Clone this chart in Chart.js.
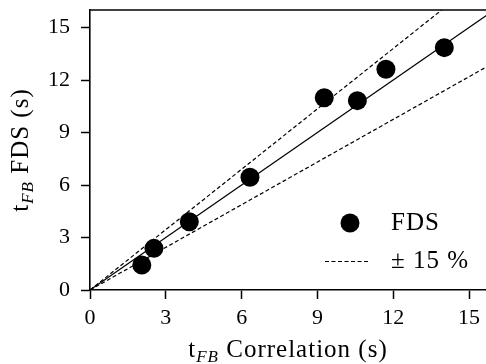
<!DOCTYPE html>
<html>
<head>
<meta charset="utf-8">
<script src="https://cdn.jsdelivr.net/npm/chart.js@4/dist/chart.umd.min.js"></script>
<style>
html,body{margin:0;padding:0;overflow:hidden;background:#fff;}
#wrap{position:relative;width:486px;height:364px;}
</style>
</head>
<body>
<div id="wrap"><canvas id="c" width="486" height="364"></canvas></div>
<script>
// Data
const corrTimes = [2.05, 2.53, 3.93, 6.33, 9.27, 10.58, 11.71, 14.02];
const fdsTimes  = [1.43, 2.38, 3.90, 6.44, 10.99, 10.82, 12.61, 13.85];
const lineX     = [0, 16];
const equalLine = [0, 16];
const upperLine = [0, 18.4];
const lowerLine = [0, 13.0];
const xTicks = [0, 3, 6, 9, 12, 15];
const yTicks = [0, 3, 6, 9, 12, 15];
const xMax = 15.67, yMax = 16;
const legendLabels = ['FDS', '\u00B1 15 %'];

const FONT = 'Liberation Serif';
Chart.defaults.font.family = FONT;
Chart.defaults.font.size = 22;
Chart.defaults.color = '#000';

const pts = corrTimes.map((x, i) => ({x, y: fdsTimes[i]}));
const mk = arr => lineX.map((x, i) => ({x, y: arr[i]}));

const TS = 25, SS = 17, LS = '1px';
function setFont(ctx, f) { ctx.font = f; ctx.letterSpacing = LS; }
function drawSub(ctx, x, y, main, sub, rest, measureOnly) {
  setFont(ctx, TS + 'px "' + FONT + '"');
  const w1 = ctx.measureText(main).width;
  setFont(ctx, 'italic ' + SS + 'px "' + FONT + '"');
  const w2 = ctx.measureText(sub).width;
  setFont(ctx, TS + 'px "' + FONT + '"');
  const w3 = ctx.measureText(rest).width;
  const total = w1 + w2 + w3;
  if (measureOnly) return total;
  setFont(ctx, TS + 'px "' + FONT + '"');
  ctx.fillText(main, x, y);
  setFont(ctx, 'italic ' + SS + 'px "' + FONT + '"');
  ctx.fillText(sub, x + w1, y + 5);
  setFont(ctx, TS + 'px "' + FONT + '"');
  ctx.fillText(rest, x + w1 + w2, y);
  return total;
}

const decor = {
  id: 'decor',
  afterDraw(chart) {
    const ctx = chart.ctx;
    const a = chart.chartArea;
    ctx.save();
    // top spine
    ctx.strokeStyle = '#000';
    ctx.lineWidth = 1.6;
    ctx.beginPath();
    ctx.moveTo(a.left - 0.8, a.top);
    ctx.lineTo(chart.width, a.top);
    ctx.stroke();
    ctx.fillStyle = '#000';
    ctx.textBaseline = 'alphabetic';
    ctx.textAlign = 'left';
    // x title
    const tw = drawSub(ctx, 0, 0, 't', 'FB', ' Correlation (s)', true);
    const cx = (a.left + a.right) / 2;
    drawSub(ctx, cx - tw / 2, 357, 't', 'FB', ' Correlation (s)', false);
    // y title
    const tw2 = drawSub(ctx, 0, 0, 't', 'FB', ' FDS (s)', true);
    const cy = (a.top + a.bottom) / 2;
    ctx.save();
    ctx.translate(28, cy);
    ctx.rotate(-Math.PI / 2);
    drawSub(ctx, -tw2 / 2, 0, 't', 'FB', ' FDS (s)', false);
    ctx.restore();
    // legend
    ctx.beginPath();
    ctx.arc(350, 223, 9.5, 0, Math.PI * 2);
    ctx.fill();
    setFont(ctx, TS + 'px "' + FONT + '"');
    ctx.fillText(legendLabels[0], 391, 230);
    ctx.lineWidth = 1.2;
    ctx.setLineDash([4, 2.5]);
    ctx.beginPath();
    ctx.moveTo(325, 261.5);
    ctx.lineTo(368, 261.5);
    ctx.stroke();
    ctx.setLineDash([]);
    ctx.fillText(legendLabels[1], 391, 268);
    ctx.restore();
  }
};

new Chart(document.getElementById('c'), {
  type: 'scatter',
  data: {
    datasets: [
      {label: 'FDS', data: pts, backgroundColor: '#000', borderColor: '#000',
       pointRadius: 9.5, pointHoverRadius: 9.5, borderWidth: 0, order: 0},
      {label: 'eq', data: mk(equalLine), showLine: true, borderColor: '#000', borderWidth: 1.2,
       pointRadius: 0, order: 1},
      {label: 'up', data: mk(upperLine), showLine: true, borderColor: '#000', borderWidth: 1.2,
       borderDash: [4, 2.5], pointRadius: 0, order: 2},
      {label: 'lo', data: mk(lowerLine), showLine: true, borderColor: '#000', borderWidth: 1.2,
       borderDash: [4, 2.5], pointRadius: 0, order: 3}
    ]
  },
  options: {
    responsive: false,
    animation: false,
    events: [],
    layout: {autoPadding: false, padding: {top: 10, right: 0, left: 0, bottom: 0}},
    plugins: {legend: {display: false}, tooltip: {enabled: false}},
    scales: {
      x: {
        type: 'linear', min: 0, max: xMax,
        afterBuildTicks: s => { s.ticks = xTicks.map(v => ({value: v})); },
        afterFit: s => { s.height = 74; s.paddingLeft = 0; s.paddingRight = 0; },
        grid: {drawOnChartArea: false, drawTicks: true, tickLength: 9, tickWidth: 1.5, tickColor: '#000'},
        border: {color: '#000', width: 1.6},
        ticks: {padding: 6, maxRotation: 0, autoSkip: false, font: {size: 22}}
      },
      y: {
        type: 'linear', min: 0, max: yMax,
        afterBuildTicks: s => { s.ticks = yTicks.map(v => ({value: v})); },
        afterFit: s => { s.width = 90; s.paddingTop = 0; s.paddingBottom = 0; },
        grid: {drawOnChartArea: false, drawTicks: true, tickLength: 9, tickWidth: 1.5, tickColor: '#000'},
        border: {color: '#000', width: 1.6},
        ticks: {padding: 11, font: {size: 22}}
      }
    }
  },
  plugins: [decor]
});
</script>
</body>
</html>
